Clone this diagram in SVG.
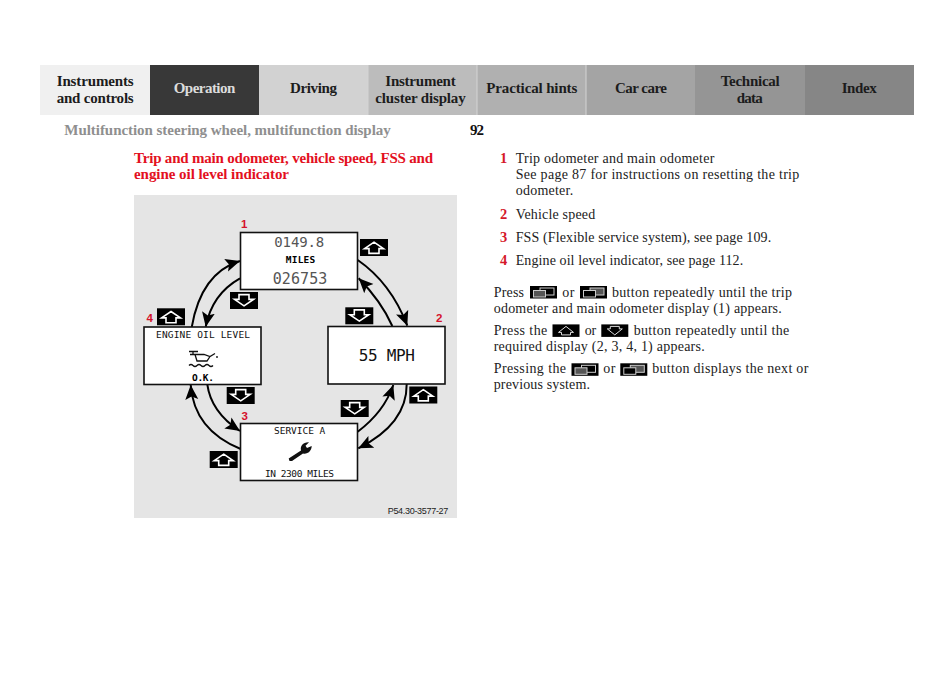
<svg xmlns="http://www.w3.org/2000/svg" xmlns:xlink="http://www.w3.org/1999/xlink" width="950" height="694" viewBox="0 0 950 694">
<style>
text{font-family:"Liberation Serif","Times New Roman",serif;}
.tab{font-size:15px;font-weight:bold;fill:#1c1c1c;}
.body{font-size:14px;fill:#222;}
.num{font-size:14.5px;font-weight:bold;fill:#d5182a;}
.red{font-size:15px;font-weight:bold;fill:#e3101e;}
.disp{font-family:"DejaVu Sans Mono","Liberation Mono",monospace;fill:#111;}
.small{font-size:9.5px;}
.b{font-weight:bold;fill:#000;}
.lab{font-family:"Liberation Sans",Arial,sans-serif;font-size:11.5px;font-weight:bold;fill:#d5122c;}
.box{fill:#fff;stroke:#111;stroke-width:1.6;}
.conn{fill:none;stroke:#000;stroke-width:2;marker-end:url(#ah);}
.ic{fill:#000;}
.ol{fill:#000;stroke:#fff;stroke-width:1.6;stroke-linejoin:miter;}
.sep{fill:#d4d4d4;}
.w{fill:none;stroke:#ccc;stroke-width:1;}
</style>
<defs>
<marker id="ah" markerUnits="userSpaceOnUse" markerWidth="16" markerHeight="14" refX="14.5" refY="7" orient="auto">
<path d="M0 0.5L14.5 7L0 13.5L3 7Z" fill="#000"/>
</marker>
<g id="up"><rect class="ic" width="28" height="17"/><path class="ol" d="M14 3.2L23.5 9.6H19V14.4H9V9.6H4.5Z"/></g>
<g id="down"><rect class="ic" width="28" height="17"/><path class="ol" d="M14 13.8L23.5 7.4H19V2.6H9V7.4H4.5Z"/></g>
<g id="winA"><rect class="ic" width="27" height="12.5"/><rect x="10" y="2" width="14" height="7" class="w"/><rect x="3.5" y="4.5" width="12" height="6.5" fill="#555" stroke="#ccc"/></g>
<g id="winB"><rect class="ic" width="27" height="12.5"/><rect x="10" y="2" width="14" height="7" fill="#555" stroke="#ccc"/><rect x="3.5" y="4.5" width="12" height="6.5" fill="#000" stroke="#ccc"/></g>
<g id="upS"><rect class="ic" width="27" height="12.5"/><path d="M13.5 2L21 8H18V10.5H9V8H6Z" fill="none" stroke="#ddd"/></g>
<g id="downS"><rect class="ic" width="27" height="12.5"/><path d="M13.5 10.5L21 4.5H18V2H9V4.5H6Z" fill="none" stroke="#ddd"/></g>
</defs>
<rect width="950" height="694" fill="#fff"/>

<g id="tabs">
<rect x="40" y="65" width="110" height="50" fill="#f0f0f0"/>
<rect x="150" y="65" width="109" height="50" fill="#383838"/>
<rect x="259" y="65" width="109" height="50" fill="#d2d2d2"/>
<rect x="368" y="65" width="109" height="50" fill="#bcbcbc"/>
<rect x="477" y="65" width="109" height="50" fill="#b0b0b0"/>
<rect x="586" y="65" width="109" height="50" fill="#a4a4a4"/>
<rect x="695" y="65" width="110" height="50" fill="#959595"/>
<rect x="805" y="65" width="109" height="50" fill="#868686"/>
<rect class="sep" x="367.5" y="65" width="1" height="50"/>
<rect class="sep" x="476.5" y="65" width="1" height="50"/>
<rect class="sep" x="585.5" y="65" width="1" height="50"/>
<text class="tab" x="56.7" y="85.5" textLength="77">Instruments</text>
<text class="tab" x="56.7" y="102.5" textLength="77">and controls</text>
<text class="tab" x="173.7" y="93" textLength="61.6" style="fill:#dcdcdc">Operation</text>
<text class="tab" x="290" y="93" textLength="47">Driving</text>
<text class="tab" x="385.3" y="85.5" textLength="70.4">Instrument</text>
<text class="tab" x="375.3" y="102.5" textLength="90.4">cluster display</text>
<text class="tab" x="486.3" y="93" textLength="91">Practical hints</text>
<text class="tab" x="615" y="93" textLength="52">Car care</text>
<text class="tab" x="720.7" y="85.5" textLength="59">Technical</text>
<text class="tab" x="736.7" y="102.5" textLength="26">data</text>
<text class="tab" x="841.7" y="93" textLength="35">Index</text>
</g>

<text x="64.3" y="135" textLength="326.4" style="font-size:15px;font-weight:bold;fill:#8f8f8f">Multifunction steering wheel, multifunction display</text>
<text x="470" y="135" textLength="14" style="font-size:15px;font-weight:bold;fill:#111">92</text>
<text class="red" x="134" y="162.7" textLength="299">Trip and main odometer, vehicle speed, FSS and</text>
<text class="red" x="134" y="179" textLength="155">engine oil level indicator</text>

<rect id="panel" x="134" y="195" width="323" height="323" fill="#e5e5e5"/>

<g id="connectors">
<path class="conn" d="M357.7 260Q391 283 407.3 325.7"/>
<path class="conn" d="M392.3 326Q381 301 358.7 278.3"/>
<path class="conn" d="M191.7 327.3Q201 273 240 261"/>
<path class="conn" d="M240 278.3Q212 294 205.7 326.7"/>
<path class="conn" d="M207.3 384.3Q211 412 240 431"/>
<path class="conn" d="M240.7 449Q194 430 190.7 385"/>
<path class="conn" d="M406.7 384Q407 424 358.3 448.3"/>
<path class="conn" d="M357.7 431.7Q384 412 393.3 385"/>
</g>

<g id="node-1">
<rect class="box" x="240.5" y="232.5" width="117" height="57"/>
<text class="lab" x="241" y="227.5">1</text>
<text class="disp" x="274.3" y="246.7" textLength="50" style="font-size:14px;fill:#555">0149.8</text>
<text class="disp b small" x="285.7" y="263.3" textLength="29.6">MILES</text>
<text class="disp" x="272.7" y="283.5" textLength="54.6" style="font-size:15px;fill:#555">026753</text>
</g>
<g id="node-2">
<rect class="box" x="328" y="326.5" width="117" height="57.5"/>
<text class="lab" x="436" y="322">2</text>
<text class="disp" x="358.7" y="360.5" textLength="56.3" style="font-size:16px">55 MPH</text>
</g>
<g id="node-3">
<rect class="box" x="240.5" y="423.5" width="117" height="57"/>
<text class="lab" x="241.5" y="420">3</text>
<text class="disp small" x="274" y="433.7" textLength="51.3">SERVICE A</text>
<path d="M288.7 458.5L301 450.5C300 446 303 442 309 442.3L305.5 445.8L307 448L311.7 446C311.7 451 307.5 454.5 303 453.5L292 461L289.5 461Z" fill="#111"/>
<text class="disp small" x="265" y="476.7" textLength="69">IN 2300 MILES</text>
</g>
<g id="node-4">
<rect class="box" x="144" y="327" width="117" height="57.5"/>
<text class="lab" x="146.5" y="322">4</text>
<text class="disp small" x="156" y="337.7" textLength="94">ENGINE OIL LEVEL</text>
<g fill="none" stroke="#111" stroke-width="1.3">
<path d="M189 351.5H198M193 351.5V354.5M190 354.5H204L210 356.5L215 353.5M195 354.5L197 361H207L210 356.5"/>
<path d="M189 365.5q2-2 4 0t4 0t4 0t4 0t4 0t4 0"/>
</g>
<circle cx="217" cy="357" r="0.9" fill="#111"/>
<text class="disp b small" x="192" y="381" textLength="22">O.K.</text>
</g>

<g id="controls">
<use xlink:href="#up" href="#up" x="360" y="239"/>
<use xlink:href="#down" href="#down" x="230" y="292"/>
<use xlink:href="#up" href="#up" x="157" y="308.3"/>
<use xlink:href="#down" href="#down" x="345.3" y="307.3"/>
<use xlink:href="#down" href="#down" x="226.7" y="387"/>
<use xlink:href="#down" href="#down" x="340.7" y="400"/>
<use xlink:href="#up" href="#up" x="409.3" y="386.5"/>
<use xlink:href="#up" href="#up" x="209.7" y="451"/>
</g>
<text x="387.7" y="513.7" textLength="60.6" style="font-family:'Liberation Sans',Arial,sans-serif;font-size:9px;fill:#222">P54.30-3577-27</text>

<g id="list">
<text class="num" x="500" y="162.7">1</text>
<text class="body" x="515.7" y="162.7" textLength="198.6">Trip odometer and main odometer</text>
<text class="body" x="515.7" y="179" textLength="283.6">See page 87 for instructions on resetting the trip</text>
<text class="body" x="515.7" y="195" textLength="57.5">odometer.</text>
<text class="num" x="500" y="218.5">2</text>
<text class="body" x="515.7" y="218.5" textLength="79.5">Vehicle speed</text>
<text class="num" x="500" y="241.5">3</text>
<text class="body" x="515.7" y="241.5" textLength="255.5">FSS (Flexible service system), see page 109.</text>
<text class="num" x="500" y="265">4</text>
<text class="body" x="515.7" y="265" textLength="227.5">Engine oil level indicator, see page 112.</text>
</g>

<g id="instructions">
<text class="body" x="493.7" y="296.7" textLength="30.3">Press</text>
<use xlink:href="#winA" href="#winA" x="530" y="286"/>
<text class="body" x="562.3" y="296.7" textLength="12">or</text>
<use xlink:href="#winB" href="#winB" x="580" y="286"/>
<text class="body" x="612" y="296.7" textLength="180">button repeatedly until the trip</text>
<text class="body" x="493.7" y="312.5" textLength="288">odometer and main odometer display (1) appears.</text>
<text class="body" x="493.7" y="334.7" textLength="53.6">Press the</text>
<use xlink:href="#upS" href="#upS" x="552.5" y="324.4"/>
<text class="body" x="584.7" y="334.7" textLength="11.5">or</text>
<use xlink:href="#downS" href="#downS" x="601.3" y="324.4"/>
<text class="body" x="633.7" y="334.7" textLength="155.6">button repeatedly until the</text>
<text class="body" x="493.7" y="350.7" textLength="211">required display (2, 3, 4, 1) appears.</text>
<text class="body" x="493.7" y="373.3" textLength="72.3">Pressing the</text>
<use xlink:href="#winA" href="#winA" x="571.5" y="363.3"/>
<text class="body" x="603.3" y="373.3" textLength="12">or</text>
<use xlink:href="#winB" href="#winB" x="620.3" y="363.3"/>
<text class="body" x="652.3" y="373.3" textLength="156">button displays the next or</text>
<text class="body" x="493.7" y="389" textLength="96.3">previous system.</text>
</g>
</svg>
